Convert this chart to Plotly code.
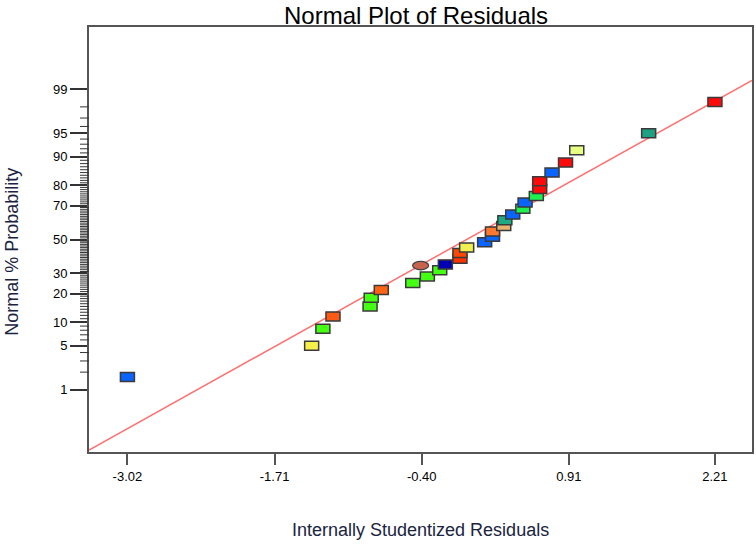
import plotly.graph_objects as go
from statistics import NormalDist

# ---------------- data ----------------
residuals = [-3.02, -1.38, -1.28, -1.19, -0.86, -0.85, -0.76, -0.48, -0.35, -0.24,
             -0.19, -0.06, -0.06, 0.00, 0.16, 0.23, 0.23, 0.33, 0.34, 0.41,
             0.50, 0.52, 0.62, 0.65, 0.65, 0.76, 0.88, 0.98, 1.62, 2.21]
normal_pct = [1.67, 5.00, 8.33, 11.67, 15.00, 18.33, 21.67, 25.00, 28.33, 31.67,
              35.00, 38.33, 41.67, 45.00, 48.33, 51.67, 55.00, 58.33, 61.67, 65.00,
              68.33, 71.67, 75.00, 78.33, 81.67, 85.00, 88.33, 91.67, 95.00, 98.33]
point_colors = ["#0a64ff", "#f6f04a", "#44ff14", "#ff5a14", "#44ff14", "#44ff14",
                "#ff6414", "#44ff14", "#44ff14", "#44ff14", "#0000b4", "#ff3200",
                "#ff4600", "#f0f050", "#0a64ff", "#0a64ff", "#ff7832", "#e6b46e",
                "#1eaa82", "#0a64ff", "#1ef050", "#0a64ff", "#1ef050", "#ff0a0a",
                "#ff0a0a", "#0a64ff", "#ff0a0a", "#e6ff82", "#1ea082", "#ff0a0a"]

special_residual = [-0.41]
special_pct = [34.3]
special_color = ["#c8644e"]

x_tick_vals = [-3.02, -1.71, -0.40, 0.91, 2.21]
x_tick_labels = ["-3.02", "-1.71", "-0.40", "0.91", "2.21"]
y_major_pct = [1, 5, 10, 20, 30, 50, 70, 80, 90, 95, 99]
y_minor_pct = [p for p in range(2, 99) if p not in y_major_pct]

ref_line_resid = [-3.362, 2.54]
ref_line_pct = [0.0557, 99.313]

x_range = [-3.362, 2.54]
y_range_pct = [0.05, 99.95]

# ---------------- helpers ----------------
nd = NormalDist()


def probit(p):
    return nd.inv_cdf(p / 100.0)


FONT = "Liberation Sans, Arial, sans-serif"
W, H = 756, 546
ML, MR, MT, MB = 89, 4, 27, 94
PLOT_W = W - ML - MR
y_rng = [probit(p) for p in y_range_pct]

fig = go.Figure()

# reference line
fig.add_trace(go.Scatter(
    x=ref_line_resid, y=[probit(p) for p in ref_line_pct],
    mode="lines", line=dict(color="#ff6f6f", width=1.5),
    hoverinfo="skip", showlegend=False))

# underlying data trace (covered by the rectangular markers)
fig.add_trace(go.Scatter(
    x=residuals, y=[probit(p) for p in normal_pct], mode="markers",
    marker=dict(symbol="square", size=8, color=point_colors,
                line=dict(color="#333", width=1)),
    showlegend=False))
fig.add_trace(go.Scatter(
    x=special_residual, y=[probit(p) for p in special_pct], mode="markers",
    marker=dict(symbol="circle", size=8, color=special_color,
                line=dict(color="#333", width=1)),
    showlegend=False))

shapes = []
# minor probability ticks on the left axis
for p in y_minor_pct:
    zp = probit(p)
    shapes.append(dict(type="line", xref="paper", yref="y",
                       x0=-9.0 / PLOT_W, x1=0, y0=zp, y1=zp,
                       line=dict(color="#333", width=1)))
# rectangular point markers
for r, p, c in zip(residuals, normal_pct, point_colors):
    shapes.append(dict(type="rect", xref="x", yref="y",
                       xsizemode="pixel", ysizemode="pixel",
                       xanchor=r, yanchor=probit(p),
                       x0=-7, x1=7, y0=-4.5, y1=4.5,
                       fillcolor=c, line=dict(color="#3a3a3a", width=1.5)))
for r, p, c in zip(special_residual, special_pct, special_color):
    shapes.append(dict(type="circle", xref="x", yref="y",
                       xsizemode="pixel", ysizemode="pixel",
                       xanchor=r, yanchor=probit(p),
                       x0=-8, x1=8, y0=-4.2, y1=4.2,
                       fillcolor=c, line=dict(color="#444", width=1.2)))

fig.update_layout(
    width=W, height=H,
    margin=dict(l=ML, r=MR, t=MT, b=MB, autoexpand=False),
    paper_bgcolor="white", plot_bgcolor="white",
    font=dict(family=FONT, size=13, color="black"),
    shapes=shapes,
    showlegend=False,
    xaxis=dict(range=x_range, tickmode="array", tickvals=x_tick_vals,
               ticktext=x_tick_labels, ticks="outside", ticklen=11,
               tickwidth=2, tickcolor="#555", showgrid=False, zeroline=False,
               showline=True, linecolor="#555", linewidth=2, mirror=True,
               tickfont=dict(size=13, color="black")),
    yaxis=dict(range=y_rng, tickmode="array",
               tickvals=[probit(p) for p in y_major_pct],
               ticktext=[str(p) for p in y_major_pct],
               ticks="outside", ticklen=17, tickwidth=1.5, tickcolor="#333",
               showgrid=False, zeroline=False,
               showline=True, linecolor="#555", linewidth=2, mirror=True,
               tickfont=dict(size=13, color="black")),
    annotations=[
        dict(text="Normal Plot of Residuals", xref="paper", yref="paper",
             x=0.493, y=1, xanchor="center", yanchor="top", yshift=MT,
             showarrow=False, font=dict(family=FONT, size=24, color="black")),
        dict(text="Internally Studentized Residuals", xref="paper", yref="paper",
             x=0.5, y=0, xanchor="center", yanchor="middle", yshift=-78,
             showarrow=False, font=dict(family=FONT, size=18, color="#1a2440")),
        dict(text="Normal % Probability", xref="paper", yref="paper",
             x=0, y=0.471, xanchor="center", yanchor="middle", xshift=-77,
             textangle=-90, showarrow=False,
             font=dict(family=FONT, size=18, color="#1a2440")),
    ],
)

fig.write_html("out.html", config={"displayModeBar": False},
               post_script="document.body.style.margin='0px';"
                           "document.body.style.padding='0px';")
